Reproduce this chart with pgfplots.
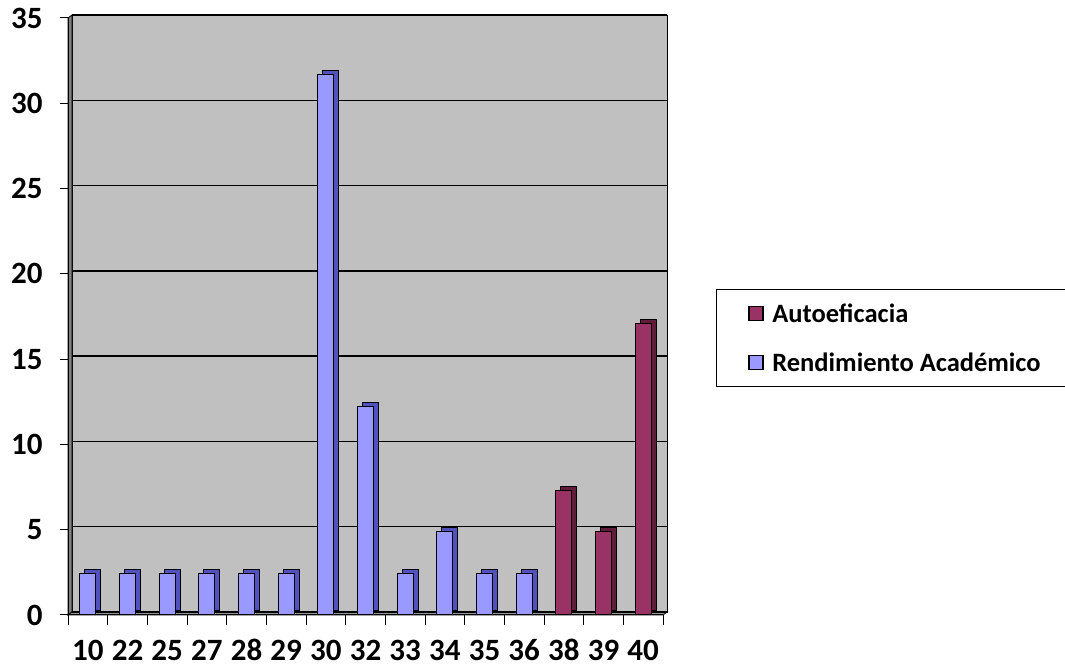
\documentclass[border=0pt]{standalone}
\usepackage{fontspec}
\setmainfont{Carlito}
\usepackage{pgfplots}
\pgfplotsset{compat=1.18}

\definecolor{wallback}{HTML}{C0C0C0}
\definecolor{wallside}{HTML}{808080}
\definecolor{wallfloor}{HTML}{969696}
\definecolor{bluefront}{HTML}{9999FF}
\definecolor{blueside}{HTML}{5252BE}
\definecolor{redfront}{HTML}{993366}
\definecolor{redside}{HTML}{5E1E3A}

\begin{document}
\begin{tikzpicture}
\begin{axis}[
    set layers,
    at={(0,0)}, anchor=south west,
    scale only axis, width=595pt, height=597pt,
    xmin=-0.5, xmax=14.5, ymin=0, ymax=35,
    axis lines=left,
    axis line style={-, line width=1pt, black},
    xtick={0,...,14},
    xticklabels={10,22,25,27,28,29,30,32,33,34,35,36,38,39,40},
    minor xtick={-0.5,0.5,...,14.5},
    ytick={0,5,...,35},
    tick align=outside,
    major x tick style={draw=none},
    major tick length=8pt, minor tick length=10pt,
    tick style={black, line width=1pt},
    ymajorgrids,
    grid style={black, line width=1.4pt, xshift=4pt, yshift=3pt},
    tick label style={font=\bfseries\fontsize{31}{34}\selectfont},
    yticklabel style={xshift=-14pt},
    xticklabel style={yshift=-14pt, text height=20pt, text depth=0pt},
    /pgf/number format/assume math mode=true,
    legend style={at={(1.089,0.546)}, anchor=north west, draw=black,
        line width=0.8pt, font=\bfseries\fontsize{26.5}{29}\selectfont,
        inner xsep=32pt, inner ysep=12pt, row sep=25pt, cells={anchor=west}},
    legend image code/.code={
        \draw[#1, draw=black, line width=1.2pt] (0pt,-7pt) rectangle (14pt,7pt);
        \path (21pt,0pt);},
]

\begin{pgfonlayer}{axis background}
\fill[wallback, draw=black, line width=0.8pt]
    ([shift={(4pt,3pt)}]rel axis cs:0,0) rectangle ([shift={(4pt,3pt)}]rel axis cs:1,1);
\fill[wallside, draw=black, line width=0.8pt]
    (rel axis cs:0,0) -- (rel axis cs:0,1) -- ([shift={(4pt,3pt)}]rel axis cs:0,1)
    -- ([shift={(4pt,3pt)}]rel axis cs:0,0) -- cycle;
\fill[wallfloor, draw=black, line width=0.8pt]
    (rel axis cs:0,0) -- (rel axis cs:1,0) -- ([shift={(4pt,3pt)}]rel axis cs:1,0)
    -- ([shift={(4pt,3pt)}]rel axis cs:0,0) -- cycle;
\end{pgfonlayer}

% Rendimiento Academico: depth face, then front face
\addplot[ybar, bar width=16pt, bar shift=0pt, fill=blueside, draw=black,
    line width=1.2pt, xshift=5pt, yshift=4pt, forget plot] coordinates {
    (0,2.44) (1,2.44) (2,2.44) (3,2.44) (4,2.44) (5,2.44)
    (6,31.71) (7,12.2) (8,2.44) (9,4.88) (10,2.44) (11,2.44)
};
\addplot[ybar, bar width=16pt, bar shift=0pt, fill=bluefront, draw=black,
    line width=1.2pt, forget plot] coordinates {
    (0,2.44) (1,2.44) (2,2.44) (3,2.44) (4,2.44) (5,2.44)
    (6,31.71) (7,12.2) (8,2.44) (9,4.88) (10,2.44) (11,2.44)
};

% Autoeficacia
\addplot[ybar, bar width=16pt, bar shift=0pt, fill=redside, draw=black,
    line width=1.2pt, xshift=5pt, yshift=4pt, forget plot] coordinates {
    (12,7.32) (13,4.88) (14,17.07)
};
\addplot[ybar, bar width=16pt, bar shift=0pt, fill=redfront, draw=black,
    line width=1.2pt, forget plot] coordinates {
    (12,7.32) (13,4.88) (14,17.07)
};

\addlegendimage{fill=redfront}
\addlegendentry{Autoeficacia}
\addlegendimage{fill=bluefront}
\addlegendentry{Rendimiento Académico}
\end{axis}
\pgfresetboundingbox
\useasboundingbox (-68pt,-56pt) rectangle (997pt,615pt);
\end{tikzpicture}
\end{document}
